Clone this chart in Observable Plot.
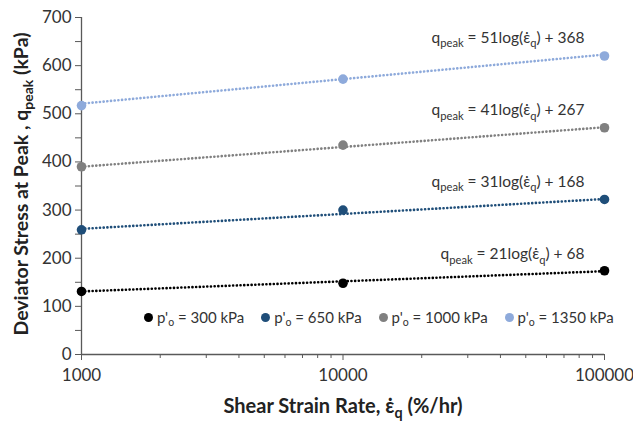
<!DOCTYPE html>
<html>
<head>
<meta charset="utf-8">
<script src="https://cdn.jsdelivr.net/npm/d3@7"></script>
<script src="https://cdn.jsdelivr.net/npm/@observablehq/plot@0.6"></script>
<style>
  html, body { margin: 0; padding: 0; background: #fff; }
  #wrap { position: relative; width: 633px; height: 423px; font-family: Lato, "Open Sans", sans-serif; }
  #legend { position: absolute; left: 144px; top: 308px; display: flex; gap: 17px; font-size: 15px; color: #333; white-space: nowrap; }
  #legend .item { display: flex; align-items: center; gap: 4px; }
  #legend .dot { width: 9px; height: 9px; border-radius: 50%; display: inline-block; }
  #legend sub { font-size: 70%; vertical-align: -3px; line-height: 0; }
</style>
</head>
<body>
<div id="wrap"></div>
<script>
// ---- data ----
const rates = [1000, 10000, 100000];                 // shear strain rate (%/hr)
const pressures = ["300", "650", "1000", "1350"];     // p'o (kPa)
const q300  = [131, 148, 174];
const q650  = [259, 300, 322];
const q1000 = [390, 435, 471];
const q1350 = [517, 572, 620];
const slopes = [21, 31, 41, 51];                      // trend-line equations
const intercepts = [68, 168, 267, 368];
const colors = ["#000000", "#1f4e79", "#808080", "#8eaadb"];
const yTicks = [0, 100, 200, 300, 400, 500, 600, 700];
const xTicks = [1000, 10000, 100000];

const qSeries = [q300, q650, q1000, q1350];
const points = [];
qSeries.forEach((arr, s) => arr.forEach((q, i) => points.push({s, rate: rates[i], q})));
const trend = [];
slopes.forEach((a, s) => [rates[0], rates[rates.length - 1]].forEach(r =>
  trend.push({s, rate: r, q: a * Math.log10(r) + intercepts[s]})));
const eqLabels = slopes.map((a, s) => ({
  s, rate: rates[rates.length - 1], q: a * Math.log10(rates[rates.length - 1]) + intercepts[s],
  text: `q_{peak} = ${a}log(ε̇_{q}) + ${intercepts[s]}`
}));
const minorX = d3.range(2, 10).flatMap(m => [m * 1000, m * 10000]);
const minorY = d3.range(50, 700, 100);

const font = "Lato, 'Open Sans', sans-serif";
const axisColor = "#595959";

const plot = Plot.plot({
  width: 633, height: 423,
  marginLeft: 81, marginRight: 29, marginTop: 17, marginBottom: 69,
  style: { fontFamily: font, background: "#fff", overflow: "visible" },
  x: { type: "log", domain: [1000, 100000] },
  y: { domain: [0, 700] },
  marks: [
    Plot.ruleX([1000], { stroke: axisColor, strokeWidth: 1.3 }),
    Plot.ruleY([0], { stroke: axisColor, strokeWidth: 1.3 }),
    Plot.axisY({ ticks: yTicks, tickSize: 6, tickPadding: 4, tickFormat: d => String(d), fontSize: 17, color: "#333", stroke: axisColor, label: null }),
    Plot.axisY({ ticks: minorY, tickSize: 6, text: null, stroke: axisColor, label: null }),
    Plot.axisX({ ticks: xTicks, tickSize: 6, tickPadding: 8, tickFormat: d => String(d), fontSize: 17, color: "#333", stroke: axisColor, label: null }),
    Plot.axisX({ ticks: minorX, tickSize: 4, text: null, stroke: axisColor, label: null }),
    Plot.line(trend, { x: "rate", y: "q", z: "s", stroke: d => colors[d.s], strokeWidth: 2.6,
      strokeDasharray: "0.1,3.6", strokeLinecap: "round" }),
    Plot.dot(points, { x: "rate", y: "q", r: 4.8, fill: d => colors[d.s], stroke: "none" }),
    Plot.text(eqLabels, { x: "rate", y: "q", text: "text", textAnchor: "end", dx: -20, dy: -17,
      fontSize: 15.5, fill: "#333" }),
    Plot.text([0], { frameAnchor: "left", textAnchor: "middle", rotate: -90, dx: -60, dy: -2,
      text: () => "Deviator Stress at Peak , q_{peak} (kPa)",
      fontSize: 19.5, fontWeight: "bold", fill: "#222" }),
    Plot.text([0], { frameAnchor: "bottom", textAnchor: "middle", dy: 58,
      text: () => "Shear Strain Rate, ε̇_{q} (%/hr)",
      fontSize: 20, fontWeight: "bold", fill: "#222" })
  ]
});

// turn "_{...}" markup into subscript tspans
d3.select(plot).selectAll("text").each(function () {
  const t = this.textContent;
  if (!t.includes("_{")) return;
  let fs = parseFloat(this.getAttribute("font-size"));
  if (!fs) { let p = this.parentNode; while (p && !fs) { fs = parseFloat(p.getAttribute && p.getAttribute("font-size")); p = p.parentNode; } }
  fs = fs || 15;
  const shift = fs * 0.28;
  const sel = d3.select(this);
  sel.text(null);
  const re = /_\{([^}]*)\}/g;
  let last = 0, m, pendingUp = false;
  while ((m = re.exec(t))) {
    const before = t.slice(last, m.index);
    if (before) { const ts = sel.append("tspan").text(before); if (pendingUp) { ts.attr("dy", -shift); pendingUp = false; } }
    sel.append("tspan").attr("dy", shift).attr("font-size", (fs * 0.72).toFixed(1)).text(m[1]);
    pendingUp = true;
    last = re.lastIndex;
  }
  const rest = t.slice(last);
  if (rest) { const ts = sel.append("tspan").text(rest); if (pendingUp) ts.attr("dy", -shift); }
});

const wrap = document.getElementById("wrap");
wrap.appendChild(plot);

const legend = document.createElement("div");
legend.id = "legend";
pressures.forEach((p, s) => {
  const item = document.createElement("div");
  item.className = "item";
  item.innerHTML = `<span class="dot" style="background:${colors[s]}"></span><span>p'<sub>o</sub> = ${p} kPa</span>`;
  legend.appendChild(item);
});
wrap.appendChild(legend);
</script>
</body>
</html>
